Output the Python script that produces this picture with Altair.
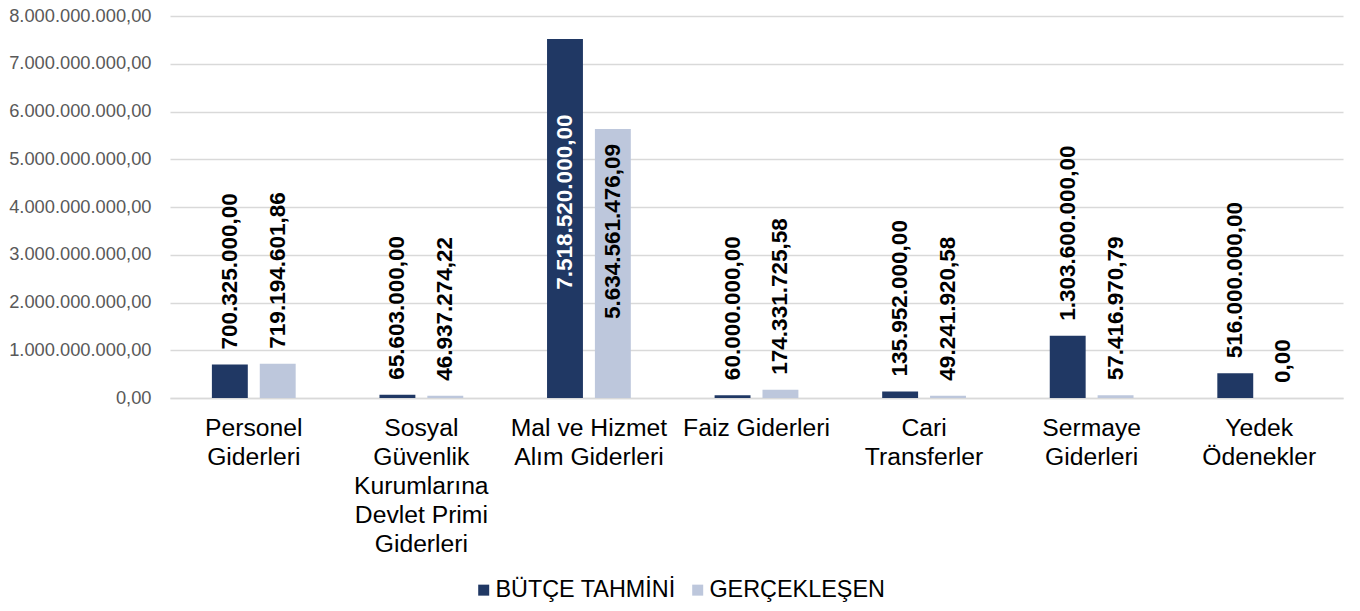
import altair as alt
import pandas as pd

categories = [
    "Personel|Giderleri",
    "Sosyal|Güvenlik|Kurumlarına|Devlet Primi|Giderleri",
    "Mal ve Hizmet|Alım Giderleri",
    "Faiz Giderleri",
    "Cari|Transferler",
    "Sermaye|Giderleri",
    "Yedek|Ödenekler",
]
series = ["BÜTÇE TAHMİNİ", "GERÇEKLEŞEN"]
butce = [700325000.00, 65603000.00, 7518520000.00, 60000000.00, 135952000.00, 1303600000.00, 516000000.00]
gercek = [719194601.86, 46937274.22, 5634561476.09, 174331725.58, 49241920.58, 57416970.79, 0.00]
colors = ["#203864", "#BDC7DC"]
y_ticks = [0, 1e9, 2e9, 3e9, 4e9, 5e9, 6e9, 7e9, 8e9]


def tr_fmt(v):
    s = f"{v:,.2f}"
    return s.replace(",", "_").replace(".", ",").replace("_", ".")


rows = []
for i, c in enumerate(categories):
    for s, vals in zip(series, [butce, gercek]):
        rows.append({"cat": c, "series": s, "value": vals[i], "label": tr_fmt(vals[i])})
df = pd.DataFrame(rows)

FONT = "Liberation Sans"

y_label_expr = (
    "replace(replace(replace(format(datum.value, ',.2f'), regexp(',', 'g'), '_'),"
    " regexp('[.]', 'g'), ','), regexp('_', 'g'), '.')"
)

base = alt.Chart(df).encode(
    x=alt.X(
        "cat:N",
        sort=categories,
        scale=alt.Scale(paddingInner=0.5, paddingOuter=0.25),
        axis=alt.Axis(
            title=None,
            labelExpr="split(datum.label, '|')",
            labelAngle=0,
            labelFont=FONT,
            labelFontSize=24.7,
            labelColor="#000000",
            labelLineHeight=29,
            labelPadding=17,
            labelOverlap=False,
            labelBound=False,
            labelLimit=400,
            ticks=False,
            domainColor="#D9D9D9",
            domainWidth=1.5,
            grid=False,
        ),
    ),
    xOffset=alt.XOffset("series:N", sort=series, scale=alt.Scale(paddingInner=0.25)),
    y=alt.Y(
        "value:Q",
        scale=alt.Scale(domain=[0, 8e9], nice=False),
        axis=alt.Axis(
            title=None,
            values=y_ticks,
            labelExpr=y_label_expr,
            labelFont=FONT,
            labelFontSize=18.3,
            labelColor="#595959",
            labelPadding=19,
            ticks=False,
            domain=False,
            gridColor="#D9D9D9",
            gridWidth=1.5,
        ),
    ),
)

bars = base.mark_bar().encode(
    color=alt.Color(
        "series:N",
        sort=series,
        scale=alt.Scale(domain=series, range=colors),
        legend=alt.Legend(
            title=None,
            orient="none",
            direction="horizontal",
            legendX=302,
            legendY=562,
            symbolType="square",
            symbolSize=121,
            symbolStrokeWidth=0,
            labelFont=FONT,
            labelFontSize=23.4,
            labelColor="#000000",
            labelOffset=0,
            labelLimit=400,
            columnPadding=10,
            padding=0,
        ),
    )
)

outside = base.transform_filter("datum.value <= 5e9").mark_text(
    angle=270, align="left", baseline="middle", dx=15,
    font=FONT, fontSize=22.5, fontWeight="bold", color="#000000",
).encode(text="label:N")

inside = base.transform_filter("datum.value > 5e9").transform_calculate(
    ly="min(datum.value, 6.25e9)"
).mark_text(
    angle=270, align="right", baseline="middle", dx=-15,
    font=FONT, fontSize=22.5, fontWeight="bold",
).encode(
    y=alt.Y("ly:Q"),
    text="label:N",
    color=alt.condition("datum.series == 'BÜTÇE TAHMİNİ'", alt.value("#FFFFFF"), alt.value("#000000")),
)

chart = (
    alt.layer(bars, outside, inside)
    .properties(
        width=1173,
        height=382,
        autosize=alt.AutoSizeParams(type="none"),
        padding={"left": 162, "top": 8, "right": 9, "bottom": 205},
    )
    .configure_view(stroke=None)
)

chart.save("out.html", embed_options={"renderer": "svg", "actions": False})
